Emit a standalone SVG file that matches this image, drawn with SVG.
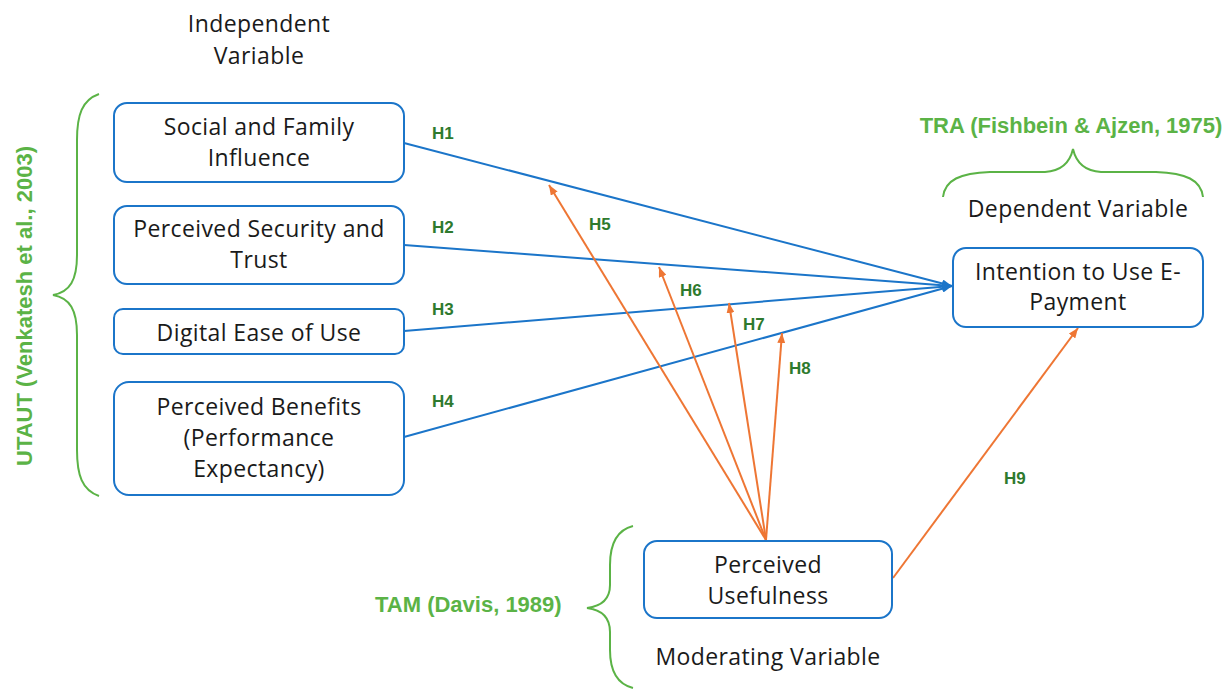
<svg xmlns="http://www.w3.org/2000/svg" width="1232" height="689" viewBox="0 0 1232 689">
<style>
.box{fill:#fff;stroke:#1B75C9;stroke-width:2}
.t{font-family:"Open Sans","Liberation Sans",Arial,sans-serif;font-size:23px;letter-spacing:0.4px;fill:#1a1a1a;text-anchor:middle}
.h{font-family:"Liberation Sans",Arial,sans-serif;font-size:17px;font-weight:bold;fill:#2E7A2E}
.th{font-family:"Liberation Sans",Arial,sans-serif;font-size:22px;font-weight:bold;fill:#5BB346}
.brace{fill:none;stroke:#5BB346;stroke-width:2}
.blue{stroke:#1B75C9;stroke-width:2;fill:none;marker-end:url(#ab)}
.orange{stroke:#EE7634;stroke-width:2;fill:none;marker-end:url(#ao)}
</style>
<defs>
<marker id="ab" markerUnits="userSpaceOnUse" markerWidth="10" markerHeight="8" refX="10" refY="4" orient="auto"><path d="M0,0 L10,4 L0,8 z" fill="#1B75C9"/></marker>
<marker id="ao" markerUnits="userSpaceOnUse" markerWidth="10" markerHeight="8" refX="10" refY="4" orient="auto"><path d="M0,0 L10,4 L0,8 z" fill="#EE7634"/></marker>
</defs>
<rect width="1232" height="689" fill="#fff"/>

<g id="labels">
<text class="t" x="259" y="32">Independent</text>
<text class="t" x="259" y="64">Variable</text>
<text class="t" x="1078" y="217">Dependent Variable</text>
<text class="t" x="768" y="665">Moderating Variable</text>
<text class="th" x="1071" y="133" text-anchor="middle">TRA (Fishbein &amp; Ajzen, 1975)</text>
<text class="th" x="375" y="612">TAM (Davis, 1989)</text>
<text class="th" transform="translate(32,306) rotate(-90)" text-anchor="middle">UTAUT (Venkatesh et al., 2003)</text>
</g>

<g id="braces">
<path class="brace" d="M99,94 C82,100 77,115 77,140 L77,255 C77,280 70,292 53,295 C70,298 77,310 77,335 L77,450 C77,475 82,490 99,496"/>
<path class="brace" d="M943,197 C945,180 960,173 990,172 L1045,172 C1062,171 1070,162 1073,149 C1076,162 1084,171 1101,172 L1156,172 C1186,173 1201,180 1203,197"/>
<path class="brace" d="M633,526 C617,530 610,545 610,565 L610,585 C610,598 603,606 587,608 C603,610 610,618 610,632 L610,650 C610,670 617,684 633,688"/>
</g>

<g id="connectors">
<path class="blue" d="M404,143 L952,286"/>
<path class="blue" d="M404,245 L952,286"/>
<path class="blue" d="M404,331 L952,286"/>
<path class="blue" d="M404,437 L952,286"/>
<path class="orange" d="M766,540 L549,185"/>
<path class="orange" d="M766,540 L659,267"/>
<path class="orange" d="M766,540 L729,303"/>
<path class="orange" d="M766,540 L782,333"/>
<path class="orange" d="M893,578 L1078,328"/>
<text class="h" x="432" y="139">H1</text>
<text class="h" x="432" y="233">H2</text>
<text class="h" x="432" y="315">H3</text>
<text class="h" x="432" y="407">H4</text>
<text class="h" x="589" y="230">H5</text>
<text class="h" x="680" y="296">H6</text>
<text class="h" x="743" y="330">H7</text>
<text class="h" x="789" y="374">H8</text>
<text class="h" x="1004" y="484">H9</text>
</g>

<g id="n1">
<rect class="box" x="114" y="103" width="290" height="79" rx="13"/>
<text class="t" x="259" y="135">Social and Family</text>
<text class="t" x="259" y="166">Influence</text>
</g>
<g id="n2">
<rect class="box" x="114" y="206" width="290" height="78" rx="13"/>
<text class="t" x="259" y="237">Perceived Security and</text>
<text class="t" x="259" y="268">Trust</text>
</g>
<g id="n3">
<rect class="box" x="114" y="309" width="290" height="45" rx="9"/>
<text class="t" x="259" y="341">Digital Ease of Use</text>
</g>
<g id="n4">
<rect class="box" x="114" y="382" width="290" height="113" rx="15"/>
<text class="t" x="259" y="415">Perceived Benefits</text>
<text class="t" x="259" y="446">(Performance</text>
<text class="t" x="259" y="477">Expectancy)</text>
</g>
<g id="n5">
<rect class="box" x="953" y="248" width="250" height="79" rx="13"/>
<text class="t" x="1078" y="280">Intention to Use E-</text>
<text class="t" x="1078" y="310">Payment</text>
</g>
<g id="n6">
<rect class="box" x="644" y="541" width="248" height="77" rx="13"/>
<text class="t" x="768" y="573">Perceived</text>
<text class="t" x="768" y="604">Usefulness</text>
</g>
</svg>
